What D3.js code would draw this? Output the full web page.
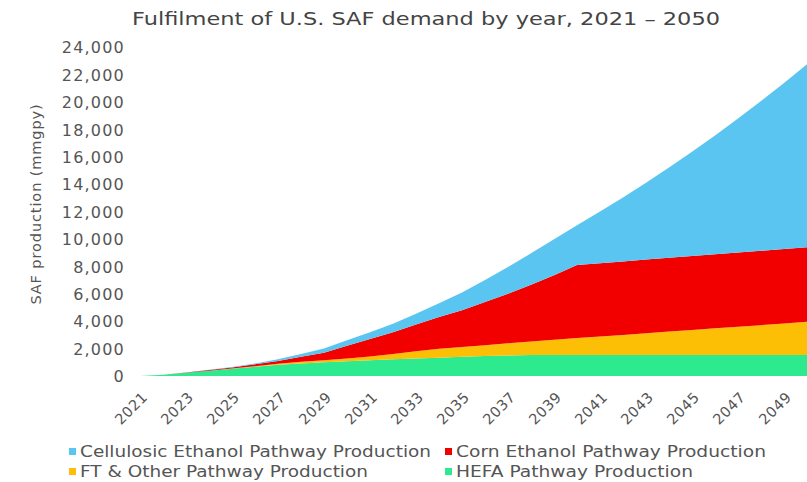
<!DOCTYPE html>
<html>
<head>
<meta charset="utf-8">
<script src="https://cdn.jsdelivr.net/npm/d3@7"></script>
<style>
  html, body { margin: 0; padding: 0; background: #fff; }
  svg { display: block; font-family: "DejaVu Sans", sans-serif; }
</style>
</head>
<body>
<div id="chart"></div>
<script>
const WIDTH = 807;
const HEIGHT = 482;

// Years 2021 - 2050
const YEARS = d3.range(2021, 2051);

// Values in mmgpy (bottom layer first)
const HEFA = [0, 100, 230, 380, 530, 680, 820, 920, 1000, 1080, 1150, 1220, 1280, 1340, 1400,
  1450, 1500, 1530, 1530, 1530, 1530, 1530, 1530, 1530, 1530, 1530, 1530, 1530, 1530, 1530];
const FT = [0, 0, 0, 0, 20, 40, 80, 120, 150, 200, 270, 380, 520, 640, 720,
  800, 880, 980, 1110, 1240, 1360, 1470, 1590, 1710, 1830, 1950, 2070, 2180, 2300, 2420];
const CORN = [0, 0, 20, 50, 70, 130, 200, 360, 550, 920, 1280, 1600, 1950, 2320, 2680,
  3150, 3620, 4140, 4710, 5330, 5340, 5360, 5370, 5380, 5390, 5400, 5410, 5430, 5440, 5450];
const CELLULOSIC = [0, 0, 10, 20, 40, 70, 120, 200, 300, 400, 500, 620, 800, 1000, 1300,
  1600, 1950, 2300, 2630, 2900, 3770, 4670, 5610, 6590, 7610, 8670, 9770, 10920, 12110, 13350];

const SERIES = ["HEFA", "FT", "Corn", "Cellulosic"];
const LABELS = {
  Cellulosic: "Cellulosic Ethanol Pathway Production",
  Corn: "Corn Ethanol Pathway Production",
  FT: "FT & Other Pathway Production",
  HEFA: "HEFA Pathway Production",
};
const color = d3.scaleOrdinal().domain(SERIES).range([
  "#2eea8e", // HEFA: green
  "#fdbf06", // FT: amber
  "#f20000", // Corn: red
  "#5bc5f1", // Cellulosic: sky
]);

const Y_TICKS = d3.range(0, 24001, 2000);
const X_TICKS = d3.range(2021, 2050, 2);

const rows = YEARS.map((year, i) => ({
  year,
  HEFA: HEFA[i],
  FT: FT[i],
  Corn: CORN[i],
  Cellulosic: CELLULOSIC[i],
}));

const margin = { top: 47, right: 0, bottom: 106, left: 140 };

const x = d3.scaleLinear()
  .domain([2021, 2050])
  .range([margin.left, WIDTH - margin.right]);

const y = d3.scaleLinear()
  .domain([0, 24000])
  .range([HEIGHT - margin.bottom, margin.top]);

const stacked = d3.stack().keys(SERIES)(rows);

const area = d3.area()
  .x((d) => x(d.data.year))
  .y0((d) => y(d[0]))
  .y1((d) => y(d[1]));

const svg = d3.select("#chart")
  .append("svg")
  .attr("width", WIDTH)
  .attr("height", HEIGHT)
  .attr("viewBox", [0, 0, WIDTH, HEIGHT]);

// Title (the source font is a wide geometric face, so stretch it to the same span)
svg.append("text")
  .attr("x", 132)
  .attr("y", 25)
  .attr("textLength", 588)
  .attr("lengthAdjust", "spacingAndGlyphs")
  .style("font-size", "17.5px")
  .style("fill", "#444")
  .text("Fulfilment of U.S. SAF demand by year, 2021 – 2050");

// Areas
svg.append("g")
  .selectAll("path")
  .data(stacked)
  .join("path")
  .attr("fill", (d) => color(d.key))
  .attr("d", area);

// Y axis (labels only)
const yAxis = svg.append("g")
  .attr("transform", `translate(${margin.left - 15},0)`)
  .call(d3.axisLeft(y).tickValues(Y_TICKS).tickSize(0).tickPadding(0).tickFormat(d3.format(",d")));
yAxis.select(".domain").remove();
yAxis.selectAll("text")
  .attr("dy", "0.36em")
  .style("font-family", "DejaVu Sans, sans-serif")
  .style("font-size", "16px")
  .style("letter-spacing", "1.2px")
  .style("fill", "#555");

// X axis (rotated labels only)
const xAxis = svg.append("g")
  .attr("transform", `translate(0,${HEIGHT - margin.bottom})`)
  .call(d3.axisBottom(x).tickValues(X_TICKS).tickSize(0).tickFormat(d3.format("d")));
xAxis.select(".domain").remove();
xAxis.selectAll("text")
  .attr("text-anchor", "end")
  .attr("x", 0)
  .attr("y", 0)
  .attr("dy", 0)
  .attr("transform", "translate(8,22) rotate(-45)")
  .style("font-family", "DejaVu Sans, sans-serif")
  .style("font-size", "14.5px")
  .style("letter-spacing", "0.5px")
  .style("fill", "#555");

// Y axis title
svg.append("text")
  .attr("transform", "translate(41,204) rotate(-90)")
  .attr("text-anchor", "middle")
  .style("font-size", "14.5px")
  .style("letter-spacing", "0.9px")
  .style("fill", "#555")
  .text("SAF production (mmgpy)");

// Legend
const LEGEND = [
  { key: "Cellulosic", x: 69, y: 452, len: 351 },
  { key: "Corn", x: 445, y: 452, len: 310 },
  { key: "FT", x: 69, y: 472, len: 288 },
  { key: "HEFA", x: 445, y: 472, len: 237 },
];
const legendItem = svg.append("g")
  .selectAll("g")
  .data(LEGEND)
  .join("g")
  .attr("transform", (d) => `translate(${d.x},${d.y})`);

legendItem.append("rect")
  .attr("x", 0)
  .attr("y", -4)
  .attr("width", 7)
  .attr("height", 7)
  .attr("fill", (d) => color(d.key));

legendItem.append("text")
  .attr("x", 11)
  .attr("y", 0)
  .attr("dy", "0.35em")
  .attr("textLength", (d) => d.len)
  .attr("lengthAdjust", "spacingAndGlyphs")
  .style("font-size", "15px")
  .style("fill", "#555")
  .text((d) => LABELS[d.key]);
</script>
</body>
</html>
